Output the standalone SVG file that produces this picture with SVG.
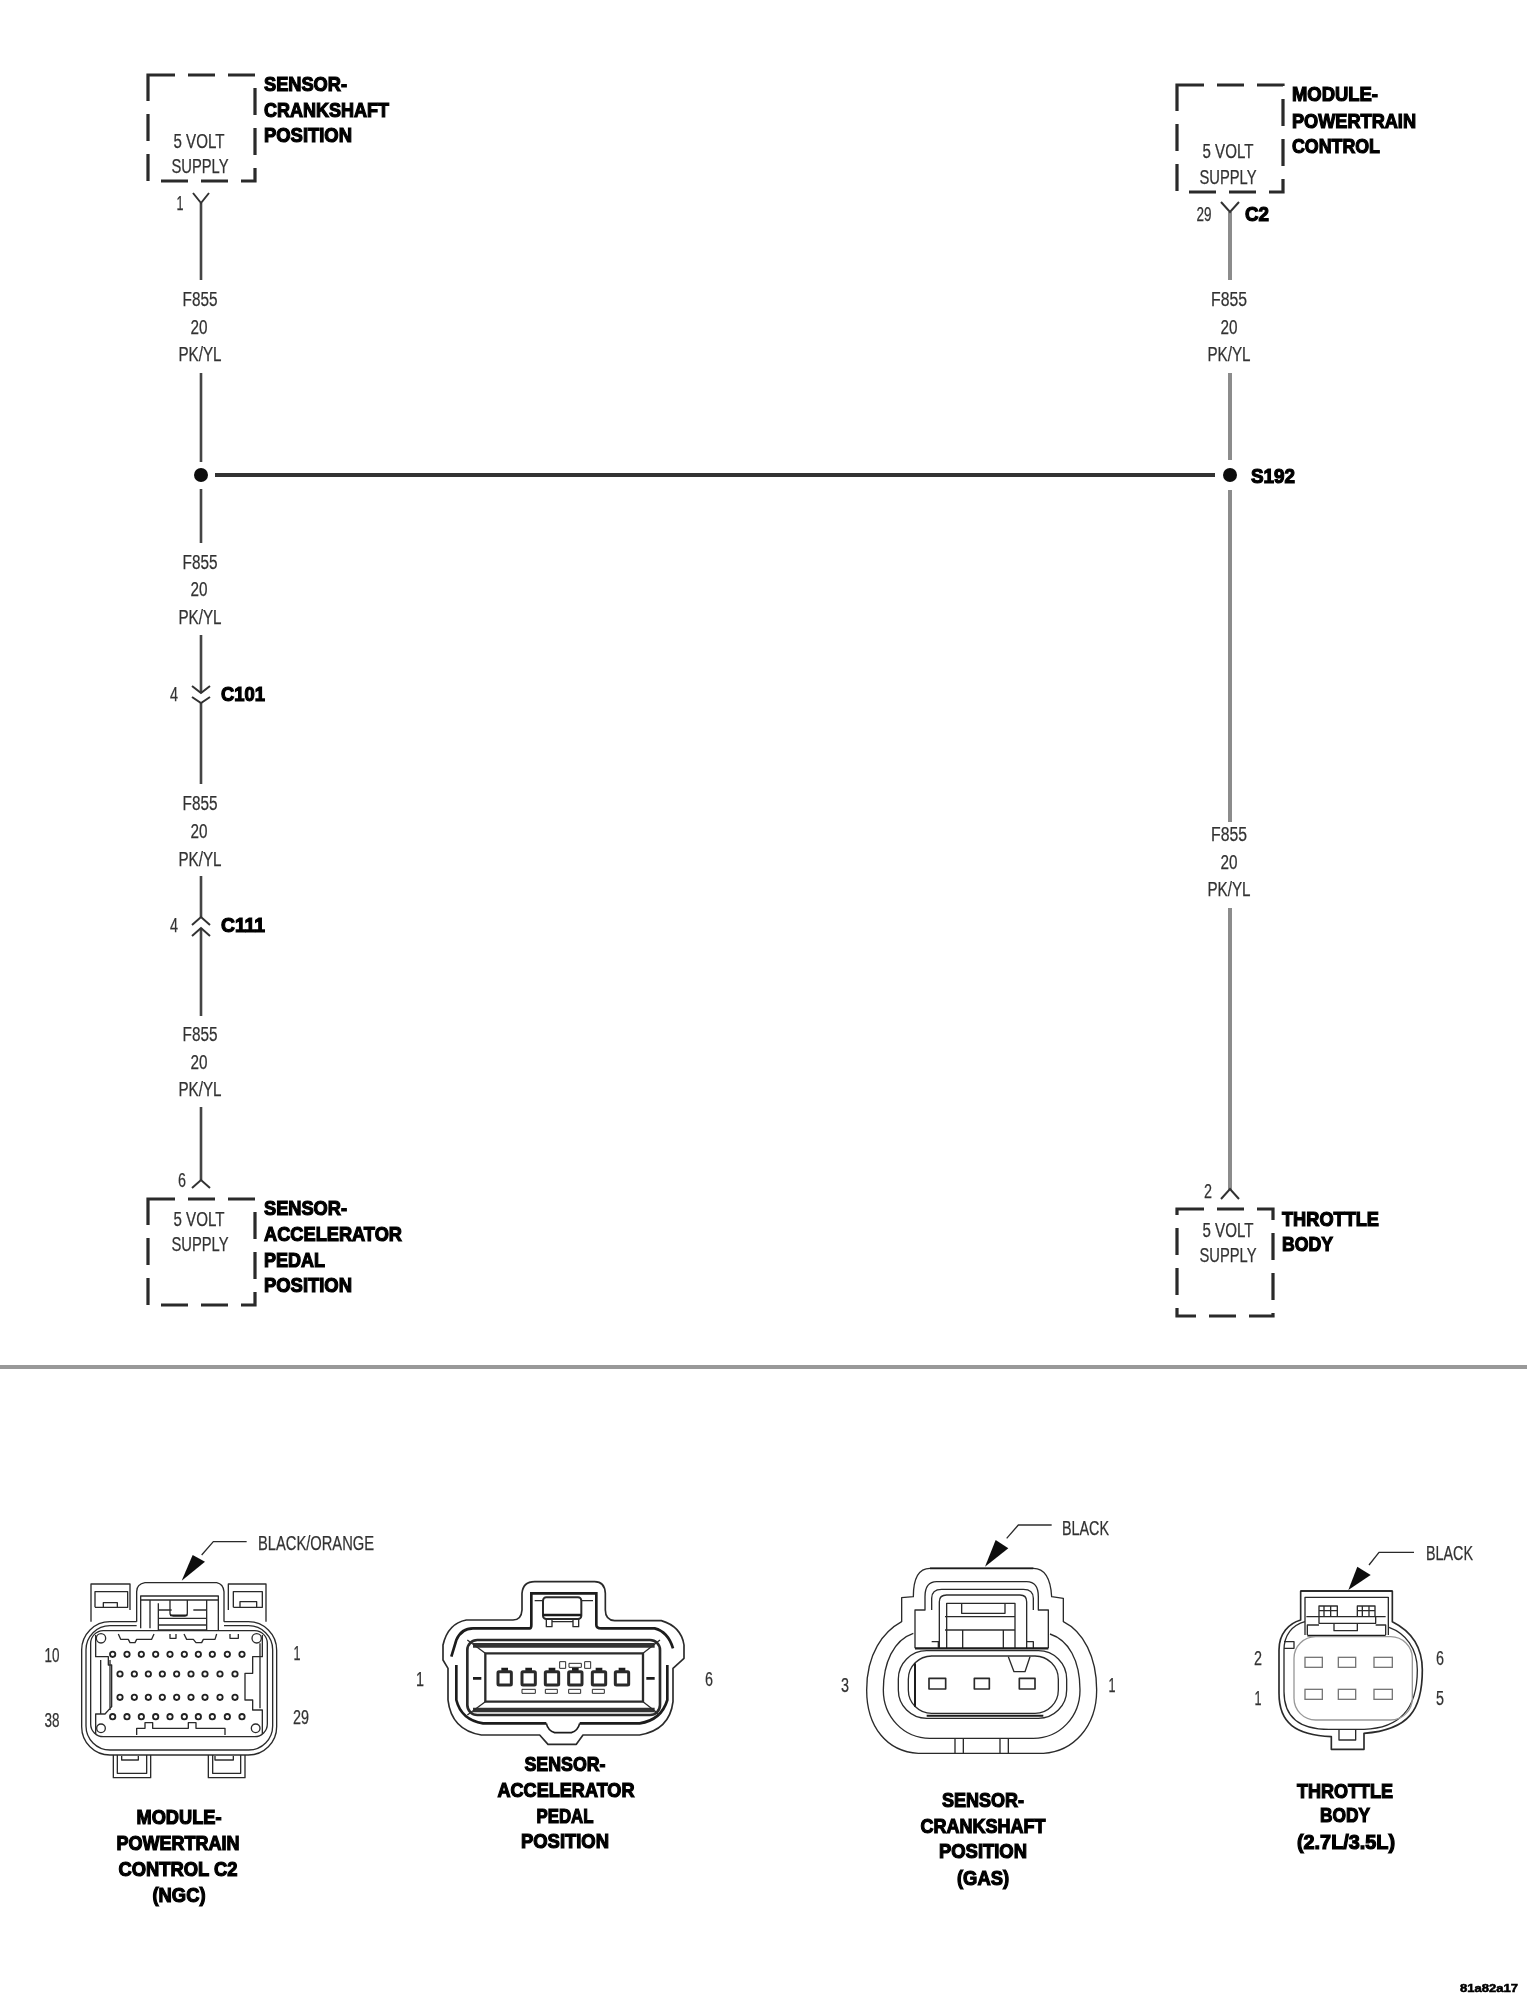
<svg xmlns="http://www.w3.org/2000/svg" width="1527" height="2000" viewBox="0 0 1527 2000">
<style>
text{font-family:"Liberation Sans",Arial,sans-serif;fill:#333;stroke:#333;stroke-width:.25px;font-size:20px}
.m{text-anchor:middle}
.b{font-weight:bold;fill:#050505;stroke:#050505;stroke-width:1.2px}
.box{fill:none;stroke:#2a2a2a;stroke-width:3.2;stroke-dasharray:27 13}
.w{fill:none;stroke:#444;stroke-width:2.6}
.g{fill:none;stroke:#8c8c8c;stroke-width:4}
.y{fill:none;stroke:#333;stroke-width:2}
.c{fill:none;stroke:#2b2b2b;stroke-width:4;stroke-linejoin:round}
.t{fill:none;stroke:#1c1c1c;stroke-width:8}
.l{fill:none;stroke:#999;stroke-width:5}
.f{fill:#fff;stroke:none}
.p{fill:#fff;stroke:#222;stroke-width:5.5}
.k{fill:#111;stroke:none}
.q{fill:none;stroke:#444;stroke-width:4}
</style>
<defs><filter id="soft" filterUnits="userSpaceOnUse" x="0" y="0" width="1527" height="2000"><feGaussianBlur stdDeviation="0.5"/></filter></defs>
<rect width="1527" height="2000" fill="#fff"/>
<g filter="url(#soft)">
<g id="connectors">
<path class="w" d="M201 203V280M201 373V462M201 489V543M201 635V693M201 703V784M201 876V917M201 928V1016M201 1107V1180"/>
<path d="M215 475H1215" fill="none" stroke="#333" stroke-width="4"/>
<path class="g" d="M1230 212V280M1230 373V460M1230 490V822M1230 908V1190"/>
<path class="y" d="M193 193L201 203L209 193M1221 202L1230 212L1239 202M192 686L201 693L210 686M192 697L201 703L210 697M192 925L201 917L210 925M192 936L201 928L210 936M192 1188L201 1180L210 1188M1221 1199L1230 1189L1239 1199"/>
<circle class="k" cx="201" cy="475" r="7"/>
<circle class="k" cx="1230" cy="475" r="7"/>
<path fill="none" stroke="#999" stroke-width="4" d="M0 1367H1527"/>
<g>
<text class="m" x="200" y="306" textLength="35" lengthAdjust="spacingAndGlyphs">F855</text>
<text class="m" x="199" y="334" textLength="17" lengthAdjust="spacingAndGlyphs">20</text>
<text class="m" x="200" y="361" textLength="43" lengthAdjust="spacingAndGlyphs">PK/YL</text>
<text class="m" x="200" y="569" textLength="35" lengthAdjust="spacingAndGlyphs">F855</text>
<text class="m" x="199" y="596" textLength="17" lengthAdjust="spacingAndGlyphs">20</text>
<text class="m" x="200" y="624" textLength="43" lengthAdjust="spacingAndGlyphs">PK/YL</text>
<text class="m" x="200" y="810" textLength="35" lengthAdjust="spacingAndGlyphs">F855</text>
<text class="m" x="199" y="838" textLength="17" lengthAdjust="spacingAndGlyphs">20</text>
<text class="m" x="200" y="866" textLength="43" lengthAdjust="spacingAndGlyphs">PK/YL</text>
<text class="m" x="200" y="1041" textLength="35" lengthAdjust="spacingAndGlyphs">F855</text>
<text class="m" x="199" y="1069" textLength="17" lengthAdjust="spacingAndGlyphs">20</text>
<text class="m" x="200" y="1096" textLength="43" lengthAdjust="spacingAndGlyphs">PK/YL</text>
<text class="m" x="1229" y="306" textLength="36" lengthAdjust="spacingAndGlyphs">F855</text>
<text class="m" x="1229" y="334" textLength="17" lengthAdjust="spacingAndGlyphs">20</text>
<text class="m" x="1229" y="361" textLength="43" lengthAdjust="spacingAndGlyphs">PK/YL</text>
<text class="m" x="1229" y="841" textLength="36" lengthAdjust="spacingAndGlyphs">F855</text>
<text class="m" x="1229" y="869" textLength="17" lengthAdjust="spacingAndGlyphs">20</text>
<text class="m" x="1229" y="896" textLength="43" lengthAdjust="spacingAndGlyphs">PK/YL</text>
<text class="m" x="180" y="210" textLength="7" lengthAdjust="spacingAndGlyphs">1</text>
<text class="m" x="1204" y="221" textLength="15" lengthAdjust="spacingAndGlyphs">29</text>
<text class="m" x="174" y="701" textLength="8" lengthAdjust="spacingAndGlyphs">4</text>
<text class="m" x="174" y="932" textLength="8" lengthAdjust="spacingAndGlyphs">4</text>
<text class="m" x="182" y="1187" textLength="8" lengthAdjust="spacingAndGlyphs">6</text>
<text class="m" x="1208" y="1198" textLength="8" lengthAdjust="spacingAndGlyphs">2</text>
<text class="b" x="1245" y="221" textLength="24" lengthAdjust="spacingAndGlyphs">C2</text>
<text class="b" x="1251" y="483" textLength="44" lengthAdjust="spacingAndGlyphs">S192</text>
<text class="b" x="221" y="701" textLength="44" lengthAdjust="spacingAndGlyphs">C101</text>
<text class="b" x="221" y="932" textLength="44" lengthAdjust="spacingAndGlyphs">C111</text>
</g>
</g>

<g id="node-sensor-crankshaft">
<path class="box" d="M148 75H255V181H148Z"/>
<text class="m" x="199" y="148" textLength="51" lengthAdjust="spacingAndGlyphs">5 VOLT</text>
<text class="m" x="200" y="173" textLength="57" lengthAdjust="spacingAndGlyphs">SUPPLY</text>
<text class="b" x="264" y="91" textLength="83" lengthAdjust="spacingAndGlyphs">SENSOR-</text>
<text class="b" x="264" y="117" textLength="125" lengthAdjust="spacingAndGlyphs">CRANKSHAFT</text>
<text class="b" x="264" y="142" textLength="88" lengthAdjust="spacingAndGlyphs">POSITION</text>
</g>
<g id="node-module-powertrain">
<path class="box" d="M1177 85H1283V192H1177Z"/>
<text class="m" x="1228" y="158" textLength="51" lengthAdjust="spacingAndGlyphs">5 VOLT</text>
<text class="m" x="1228" y="184" textLength="57" lengthAdjust="spacingAndGlyphs">SUPPLY</text>
<text class="b" x="1292" y="101" textLength="86" lengthAdjust="spacingAndGlyphs">MODULE-</text>
<text class="b" x="1292" y="128" textLength="124" lengthAdjust="spacingAndGlyphs">POWERTRAIN</text>
<text class="b" x="1292" y="153" textLength="88" lengthAdjust="spacingAndGlyphs">CONTROL</text>
</g>
<g id="node-sensor-accelerator">
<path class="box" d="M148 1199H255V1305H148Z"/>
<text class="m" x="199" y="1226" textLength="51" lengthAdjust="spacingAndGlyphs">5 VOLT</text>
<text class="m" x="200" y="1251" textLength="57" lengthAdjust="spacingAndGlyphs">SUPPLY</text>
<text class="b" x="264" y="1215" textLength="83" lengthAdjust="spacingAndGlyphs">SENSOR-</text>
<text class="b" x="264" y="1241" textLength="138" lengthAdjust="spacingAndGlyphs">ACCELERATOR</text>
<text class="b" x="264" y="1267" textLength="61" lengthAdjust="spacingAndGlyphs">PEDAL</text>
<text class="b" x="264" y="1292" textLength="88" lengthAdjust="spacingAndGlyphs">POSITION</text>
</g>
<g id="node-throttle-body">
<path class="box" d="M1177 1209H1273V1316H1177Z"/>
<text class="m" x="1228" y="1237" textLength="51" lengthAdjust="spacingAndGlyphs">5 VOLT</text>
<text class="m" x="1228" y="1262" textLength="57" lengthAdjust="spacingAndGlyphs">SUPPLY</text>
<text class="b" x="1282" y="1226" textLength="97" lengthAdjust="spacingAndGlyphs">THROTTLE</text>
<text class="b" x="1282" y="1251" textLength="51" lengthAdjust="spacingAndGlyphs">BODY</text>
</g>

<g id="connector-pcm-c2">
<g transform="translate(30 1510) scale(.33333)">
<path class="c" d="M650 95H550L515 135"/>
<polygon class="k" points="455,212 488,135 525,155"/>
<rect class="c" x="155" y="335" width="585" height="400" rx="85"/>
<rect class="c" x="168" y="347" width="560" height="373" rx="72"/>
<rect class="c" x="182" y="362" width="530" height="318" rx="38"/>
<path class="c" d="M183 335V222H300V300M195 292V245H293V292H195M220 292V278H262V292M595 300V222H708V335M610 292V245H697V292H610M630 292V275H680V292"/>
<rect class="f" x="320" y="225" width="262" height="135"/>
<path class="c" d="M320 335V245Q320 222 345 218H560Q580 222 582 245V335M332 355V258H565V360M332 270H565M360 270V355M385 280V360H530M530 270V360M385 300H425M490 300H530M420 270V310Q420 318 430 318H465Q472 318 472 310V270M385 325H530M385 345H530"/>
<path class="t" style="stroke-width:5" d="M420 316H472"/>
<path class="c" d="M197 375V440H235V465H245V590L225 612H197V672M212 450V610M240 450V600M265 372L272 388H295L300 398H315L320 388H365L372 372M420 372V385H438V372M462 372L470 388H490L498 398H515L520 388H555L560 372M600 372V385H625V372M697 375V440H668V490H645V570H668V600H697V672M690 400V595M320 675V655H345V638H368V655H475V638H498V655H585V675"/>
<circle class="c" cx="213" cy="385" r="14"/><circle class="c" cx="680" cy="385" r="14"/><circle class="c" cx="213" cy="655" r="13"/><circle class="c" cx="677" cy="655" r="13"/>
<g>
<circle class="p" cx="248" cy="433" r="8"/><circle class="p" cx="291" cy="433" r="8"/><circle class="p" cx="334" cy="433" r="8"/><circle class="p" cx="377" cy="433" r="8"/><circle class="p" cx="420" cy="433" r="8"/><circle class="p" cx="463" cy="433" r="8"/><circle class="p" cx="505" cy="433" r="8"/><circle class="p" cx="547" cy="433" r="8"/><circle class="p" cx="592" cy="433" r="8"/><circle class="p" cx="636" cy="433" r="8"/>
<circle class="p" cx="270" cy="492" r="8"/><circle class="p" cx="313" cy="492" r="8"/><circle class="p" cx="355" cy="492" r="8"/><circle class="p" cx="397" cy="492" r="8"/><circle class="p" cx="440" cy="492" r="8"/><circle class="p" cx="483" cy="492" r="8"/><circle class="p" cx="525" cy="492" r="8"/><circle class="p" cx="570" cy="492" r="8"/><circle class="p" cx="615" cy="492" r="8"/>
<circle class="p" cx="270" cy="562" r="8"/><circle class="p" cx="313" cy="562" r="8"/><circle class="p" cx="355" cy="562" r="8"/><circle class="p" cx="397" cy="562" r="8"/><circle class="p" cx="440" cy="562" r="8"/><circle class="p" cx="483" cy="562" r="8"/><circle class="p" cx="525" cy="562" r="8"/><circle class="p" cx="570" cy="562" r="8"/><circle class="p" cx="615" cy="562" r="8"/>
<circle class="p" cx="248" cy="620" r="8"/><circle class="p" cx="291" cy="620" r="8"/><circle class="p" cx="334" cy="620" r="8"/><circle class="p" cx="377" cy="620" r="8"/><circle class="p" cx="420" cy="620" r="8"/><circle class="p" cx="463" cy="620" r="8"/><circle class="p" cx="505" cy="620" r="8"/><circle class="p" cx="547" cy="620" r="8"/><circle class="p" cx="592" cy="620" r="8"/><circle class="p" cx="636" cy="620" r="8"/>
</g>
<path class="c" d="M250 735V803H362V735M262 735V790H350V735M275 738V750H325V738M535 735V803H645V735M548 735V790H632V735M555 738V750H610V738"/>
</g>
<text x="258" y="1550" textLength="116" lengthAdjust="spacingAndGlyphs">BLACK/ORANGE</text>
<text class="m" x="52" y="1662" textLength="15" lengthAdjust="spacingAndGlyphs">10</text>
<text class="m" x="52" y="1727" textLength="15" lengthAdjust="spacingAndGlyphs">38</text>
<text class="m" x="297" y="1660" textLength="7" lengthAdjust="spacingAndGlyphs">1</text>
<text class="m" x="301" y="1724" textLength="16" lengthAdjust="spacingAndGlyphs">29</text>
<text class="b m" x="179" y="1824" textLength="85" lengthAdjust="spacingAndGlyphs">MODULE-</text>
<text class="b m" x="178" y="1850" textLength="123" lengthAdjust="spacingAndGlyphs">POWERTRAIN</text>
<text class="b m" x="178" y="1876" textLength="119" lengthAdjust="spacingAndGlyphs">CONTROL C2</text>
<text class="b m" x="179" y="1902" textLength="53" lengthAdjust="spacingAndGlyphs">(NGC)</text>
</g>

<g id="connector-accelerator">
<g transform="translate(398 1560) scale(.33333)">
<path class="c" style="stroke-width:5" d="M135 255Q150 190 205 180H345Q370 180 372 150V100Q375 65 410 65H590Q620 65 622 100V150Q622 180 650 182H790Q850 200 858 255V295L825 325V425Q815 510 725 525H555L535 553H450L425 525H250Q160 510 150 420V325L135 300Z"/>
<path class="t" d="M160 290L175 240Q190 205 225 205H395Q400 205 400 195V100H595V195Q595 205 610 205H770Q810 215 825 265"/>
<path class="t" d="M175 315V420Q190 480 255 490H445M545 490H725Q790 480 808 420V315"/>
<path class="t" d="M445 490Q450 512 470 518H520Q540 512 545 490" style="stroke-width:5"/>
<rect class="c" style="stroke-width:8" x="208" y="240" width="578" height="225" rx="30"/>
<path class="t" style="stroke-width:14;stroke:#333" d="M225 256H770M225 450H770"/>
<rect class="c" style="stroke-width:7" x="262" y="280" width="473" height="145"/>
<path class="c" d="M208 240L262 280M786 240L735 280M208 465L262 425M786 465L735 425"/>
<path class="t" d="M225 355H250M745 355H770"/>
<rect class="c" style="stroke-width:6" x="435" y="112" width="115" height="65" rx="10"/>
<path class="c" d="M410 122H435M550 122H585M445 177V200H462V177M525 177V200H542V177M462 185H525"/>
<path class="t" style="stroke-width:7" d="M435 165H550"/>
<g class="c" style="stroke-width:9">
<rect x="300" y="335" width="40" height="40" rx="3"/><rect x="372" y="335" width="40" height="40" rx="3"/><rect x="442" y="335" width="40" height="40" rx="3"/><rect x="512" y="335" width="40" height="40" rx="3"/><rect x="583" y="335" width="40" height="40" rx="3"/><rect x="652" y="335" width="40" height="40" rx="3"/>
</g>
<path class="t" style="stroke-width:9" d="M310 328H330M382 328H402M452 328H472M522 328H542M593 328H613M662 328H682"/>
<g class="c" style="stroke-width:3">
<rect x="372" y="388" width="40" height="12"/><rect x="442" y="388" width="36" height="12"/><rect x="512" y="388" width="36" height="12"/><rect x="583" y="388" width="36" height="12"/>
<rect x="485" y="305" width="18" height="20"/><rect x="560" y="305" width="18" height="20"/><rect x="513" y="310" width="37" height="12"/>
</g>
</g>
<text class="m" x="420" y="1686" textLength="8" lengthAdjust="spacingAndGlyphs">1</text>
<text class="m" x="709" y="1686" textLength="8" lengthAdjust="spacingAndGlyphs">6</text>
<text class="b m" x="565" y="1771" textLength="81" lengthAdjust="spacingAndGlyphs">SENSOR-</text>
<text class="b m" x="566" y="1797" textLength="137" lengthAdjust="spacingAndGlyphs">ACCELERATOR</text>
<text class="b m" x="565" y="1823" textLength="57" lengthAdjust="spacingAndGlyphs">PEDAL</text>
<text class="b m" x="565" y="1848" textLength="88" lengthAdjust="spacingAndGlyphs">POSITION</text>
</g>

<g id="connector-crankshaft">
<g transform="translate(830 1500) scale(.33333)">
<path class="c" d="M665 75H565L530 115"/>
<polygon class="k" points="465,200 497,120 535,145"/>
<path class="c" d="M265 760C170 755 110 680 110 570C110 460 160 395 215 365L215 293L250 290Q250 205 300 205H610Q660 205 665 290L700 295V365C760 395 800 470 800 570C800 680 730 755 640 760Z"/>
<path class="t" style="stroke-width:5" d="M300 205H610"/>
<path class="c" d="M250 400C190 420 160 490 160 570C160 650 220 715 300 715H610C690 715 750 650 750 570C750 480 715 420 660 402"/>
<path class="c" d="M255 445V330H285V290Q285 245 320 245H590Q625 245 625 290V330H655V445"/>
<path class="c" d="M305 330V295Q305 268 335 268H580Q610 268 610 295V330M328 445V305Q328 285 350 285H570Q590 285 590 305V445M350 445V310H555V445M395 310V340H525V310M345 350H555M345 390H555M398 390V445M520 390V445M305 425H325V445M590 425H610V445"/>
<path class="t" style="stroke-width:7" d="M255 445H655"/>
<rect class="c" x="205" y="452" width="505" height="203" rx="85"/>
<rect class="c" x="235" y="468" width="450" height="172" rx="70"/>
<path class="t" style="stroke-width:6" d="M255 490V620M290 647H640"/>
<path class="c" d="M535 470L552 515H585L600 470"/>
<g class="c" style="stroke-width:5"><rect x="297" y="535" width="50" height="32"/><rect x="433" y="535" width="45" height="32"/><rect x="568" y="535" width="47" height="32"/></g>
<path class="c" d="M375 715V760M400 715V760M510 715V760M535 715V760"/>
</g>
<text x="1062" y="1535" textLength="47" lengthAdjust="spacingAndGlyphs">BLACK</text>
<text class="m" x="845" y="1692" textLength="8" lengthAdjust="spacingAndGlyphs">3</text>
<text class="m" x="1112" y="1692" textLength="7" lengthAdjust="spacingAndGlyphs">1</text>
<text class="b m" x="983" y="1807" textLength="82" lengthAdjust="spacingAndGlyphs">SENSOR-</text>
<text class="b m" x="983" y="1833" textLength="125" lengthAdjust="spacingAndGlyphs">CRANKSHAFT</text>
<text class="b m" x="983" y="1858" textLength="88" lengthAdjust="spacingAndGlyphs">POSITION</text>
<text class="b m" x="983" y="1885" textLength="52" lengthAdjust="spacingAndGlyphs">(GAS)</text>
</g>

<g id="connector-throttle-body">
<g transform="translate(1229 1520) scale(.33333)">
<path class="c" d="M555 97H450L420 135"/>
<polygon class="k" points="358,210 385,140 425,165"/>
<path class="c" style="stroke-width:5" d="M215 300V213H490V305C550 335 580 385 580 450C580 570 540 630 405 640V688H307V650C200 645 150 610 150 520V390C150 340 180 310 215 300Z"/>
<path class="t" style="stroke-width:5" d="M215 213H490"/>
<path class="c" d="M228 345V232H478V345M232 290H470M270 290V258H325V290M385 290V258H438V290M270 272H325M385 272H438M285 258V290M305 258V290M400 258V290M420 258V290M270 290V310H440V290M315 310V332H385V310M235 345V315H270M470 345V315H440"/>
<path class="t" style="stroke-width:5" d="M235 347H470"/>
<path class="c" d="M228 305C190 315 165 345 165 390V515C165 590 210 628 300 628H405C510 625 565 570 565 450C565 385 530 340 480 322"/>
<path class="c" d="M165 365H195V385H165"/>
<path class="c" d="M330 628V660H380V628"/>
<rect class="l" style="stroke-width:4" x="195" y="350" width="355" height="250" rx="65"/>
<g class="q" style="stroke:#777"><rect x="228" y="412" width="52" height="30"/><rect x="328" y="412" width="52" height="30"/><rect x="435" y="412" width="55" height="30"/><rect x="228" y="508" width="52" height="30"/><rect x="328" y="508" width="52" height="30"/><rect x="435" y="508" width="55" height="30"/></g>
</g>
<text x="1426" y="1560" textLength="47" lengthAdjust="spacingAndGlyphs">BLACK</text>
<text class="m" x="1258" y="1665" textLength="8" lengthAdjust="spacingAndGlyphs">2</text>
<text class="m" x="1440" y="1665" textLength="8" lengthAdjust="spacingAndGlyphs">6</text>
<text class="m" x="1258" y="1705" textLength="7" lengthAdjust="spacingAndGlyphs">1</text>
<text class="m" x="1440" y="1705" textLength="8" lengthAdjust="spacingAndGlyphs">5</text>
<text class="b m" x="1345" y="1798" textLength="96" lengthAdjust="spacingAndGlyphs">THROTTLE</text>
<text class="b m" x="1345" y="1822" textLength="50" lengthAdjust="spacingAndGlyphs">BODY</text>
<text class="b m" x="1346" y="1849" textLength="98" lengthAdjust="spacingAndGlyphs">(2.7L/3.5L)</text>
</g>
<text class="b" x="1460" y="1992" style="font-size:10px;stroke-width:.5px" textLength="58" lengthAdjust="spacingAndGlyphs">81a82a17</text>
</g>
</svg>
